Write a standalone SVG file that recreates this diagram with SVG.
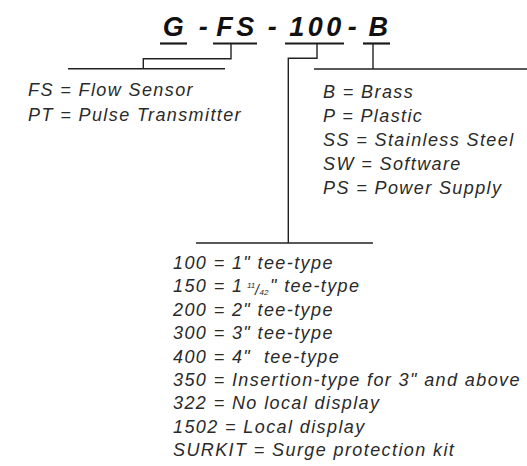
<svg xmlns="http://www.w3.org/2000/svg" width="527" height="466" viewBox="0 0 527 466">
<style>
.title{font-family:"Liberation Sans",Arial,sans-serif;font-weight:bold;font-style:italic;font-size:27px;fill:#111;letter-spacing:3.5px}
.lbl{font-family:"Liberation Sans",Arial,sans-serif;font-style:italic;font-size:18px;fill:#2a2a2a;letter-spacing:1.4px}
.small{font-size:8px;letter-spacing:0}
.ul{stroke:#1a1a1a;stroke-width:2.2;fill:none}
.ln{stroke:#222;stroke-width:1.4;fill:none}
</style>
<rect width="527" height="466" fill="#fff"/>
<g id="title">
<text class="title" x="175" y="36" text-anchor="middle">G</text>
<text class="title" x="205" y="36" text-anchor="middle">-</text>
<text class="title" x="237" y="36" text-anchor="middle">FS</text>
<text class="title" x="274" y="36" text-anchor="middle">-</text>
<text class="title" x="317" y="36" text-anchor="middle">100</text>
<text class="title" x="354" y="36" text-anchor="middle">-</text>
<text class="title" x="380" y="36" text-anchor="middle">B</text>
</g>
<g id="connectors">
<line class="ul" x1="160" y1="43.5" x2="187" y2="43.5"/>
<line class="ul" x1="213" y1="43.5" x2="257" y2="43.5"/>
<line class="ul" x1="285" y1="43.5" x2="344" y2="43.5"/>
<line class="ul" x1="363" y1="43.5" x2="390" y2="43.5"/>
<polyline class="ln" points="231,43.5 231,58.8 143.3,58.8 143.3,68.8"/>
<line class="ln" x1="68" y1="68.8" x2="225" y2="68.8"/>
<polyline class="ln" points="317,43.5 317,58.3 288.3,58.3 288.3,243"/>
<line class="ln" x1="196" y1="243" x2="373" y2="243"/>
<line class="ln" x1="373" y1="43.5" x2="373" y2="69"/>
<line class="ln" x1="314" y1="69" x2="527" y2="69"/>
</g>
<g id="type-list">
<text class="lbl" x="28" y="95.7">FS = Flow Sensor</text>
<text class="lbl" x="28" y="120.7">PT = Pulse Transmitter</text>
</g>
<g id="material-list">
<text class="lbl" x="323" y="97.5">B = Brass</text>
<text class="lbl" x="323" y="121.5">P = Plastic</text>
<text class="lbl" x="323" y="145.5">SS = Stainless Steel</text>
<text class="lbl" x="323" y="169.5">SW = Software</text>
<text class="lbl" x="323" y="193.5">PS = Power Supply</text>
</g>
<g id="size-list">
<text class="lbl" x="173" y="269">100 = 1" tee-type</text>
<text class="lbl" x="173" y="292.4">150 = 1<tspan class="small" x="247" y="288">11</tspan><tspan x="255" y="294.5" font-size="14px" letter-spacing="0">/</tspan><tspan class="small" x="259.5" y="295">42</tspan><tspan x="270" y="292.4">" tee-type</tspan></text>
<text class="lbl" x="173" y="315.8">200 = 2" tee-type</text>
<text class="lbl" x="173" y="339.2">300 = 3" tee-type</text>
<text class="lbl" x="173" y="362.6" style="white-space:pre">400 = 4"  tee-type</text>
<text class="lbl" x="173" y="386">350 = Insertion-type for 3" and above</text>
<text class="lbl" x="173" y="409.4">322 = No local display</text>
<text class="lbl" x="173" y="432.8">1502 = Local display</text>
<text class="lbl" x="173" y="456.2">SURKIT = Surge protection kit</text>
</g>
</svg>
